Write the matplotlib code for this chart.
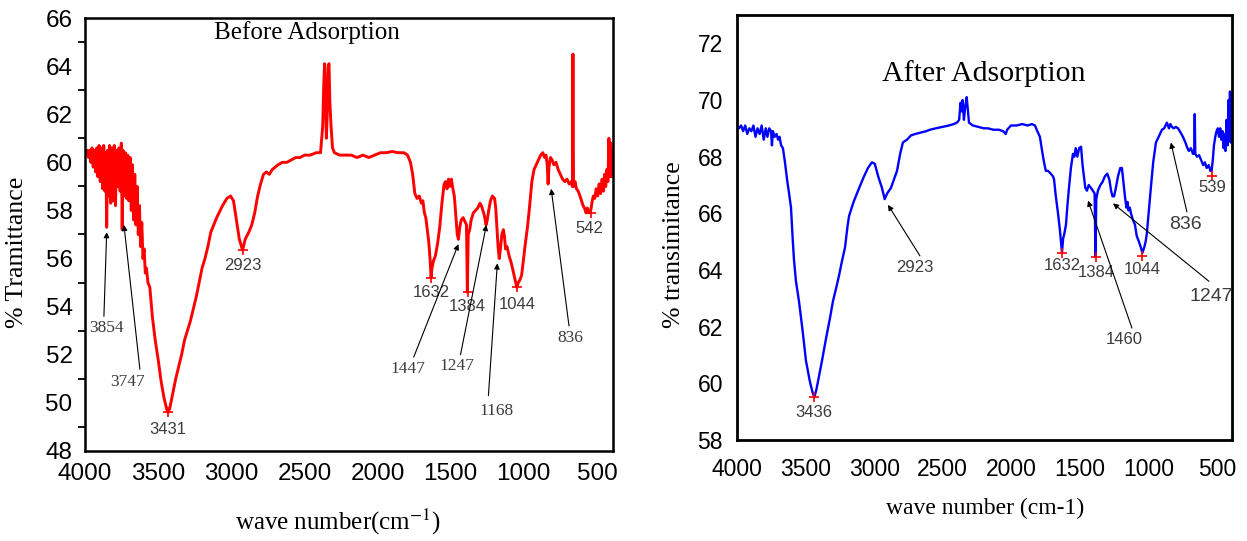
import matplotlib.pyplot as plt
from matplotlib.ticker import MultipleLocator, FixedLocator, NullLocator

plt.rcParams['mathtext.fontset'] = 'stix'

# ---- before adsorption (red) ----
before_wn = [4000, 3992, 3984, 3976, 3968, 3960, 3952, 3944, 3936, 3928,
             3920, 3912, 3904, 3896, 3888, 3880, 3872, 3864, 3858, 3852,
             3846, 3840, 3832, 3824, 3816, 3808, 3800, 3792, 3784, 3776,
             3768, 3760, 3752, 3746, 3740, 3732, 3724, 3716, 3708, 3700,
             3692, 3684, 3676, 3668, 3660, 3652, 3644, 3636, 3628, 3620,
             3612, 3604, 3596, 3588, 3580, 3570, 3557, 3540, 3520, 3500,
             3480, 3460, 3440, 3431, 3420, 3400, 3380, 3360, 3340, 3320,
             3300, 3280, 3260, 3240, 3220, 3200, 3180, 3160, 3140, 3100,
             3060, 3030, 3005, 2985, 2965, 2945, 2923, 2905, 2880, 2860,
             2840, 2820, 2800, 2780, 2760, 2740, 2720, 2700, 2680, 2650,
             2620, 2590, 2560, 2530, 2500, 2460, 2420, 2390, 2375, 2368,
             2362, 2356, 2350, 2344, 2338, 2332, 2326, 2318, 2308, 2295,
             2260, 2220, 2180, 2140, 2100, 2060, 2020, 1980, 1940, 1900,
             1860, 1820, 1795, 1775, 1760, 1745, 1730, 1715, 1700, 1690,
             1680, 1670, 1660, 1650, 1640, 1634, 1628, 1618, 1605, 1590,
             1575, 1560, 1545, 1535, 1525, 1515, 1505, 1495, 1485, 1475,
             1465, 1455, 1447, 1438, 1428, 1415, 1400, 1392, 1386, 1380,
             1370, 1360, 1345, 1330, 1315, 1300, 1290, 1280, 1270, 1258,
             1250, 1240, 1228, 1215, 1200, 1192, 1184, 1176, 1168, 1160,
             1150, 1140, 1132, 1125, 1115, 1100, 1085, 1070, 1058, 1048,
             1038, 1028, 1015, 1000, 990, 975, 960, 945, 930, 915,
             900, 885, 870, 858, 848, 840, 834, 828, 818, 806,
             795, 780, 765, 750, 735, 720, 705, 690, 675, 668,
             664, 660, 650, 640, 628, 616, 605, 595, 585, 575,
             565, 555, 542, 535, 525, 515, 505, 495, 485, 475,
             465, 455, 448, 440, 432, 425, 418, 412, 405, 400,
             395, 390]
before_T = [60.4, 60.3, 60.5, 60.2, 60.5, 60.0, 60.6, 59.8, 60.5, 59.6,
            60.6, 59.4, 60.7, 59.2, 60.6, 58.9, 60.7, 58.8, 60.4, 57.3,
            60.5, 58.6, 60.7, 58.3, 60.6, 58.4, 60.7, 58.2, 60.5, 59.0,
            60.6, 58.8, 60.8, 57.2, 60.5, 58.6, 60.4, 58.5, 60.3, 58.4,
            60.2, 58.0, 59.9, 57.6, 59.5, 57.4, 59.0, 57.0, 58.2, 56.5,
            57.5, 56.0, 56.4, 55.4, 55.6, 55.0, 54.8, 53.6, 52.6, 51.8,
            50.9, 50.2, 49.7, 49.6, 49.8, 50.4, 51.0, 51.5, 52.0, 52.6,
            53.0, 53.4, 53.9, 54.4, 55.0, 55.6, 56.0, 56.5, 57.1, 57.7,
            58.2, 58.5, 58.6, 58.4, 57.6, 56.8, 56.35, 56.8, 57.1, 57.4,
            57.9, 58.6, 59.1, 59.5, 59.6, 59.5, 59.7, 59.8, 59.9, 60.0,
            60.0, 60.1, 60.2, 60.2, 60.3, 60.3, 60.4, 60.4, 61.5, 63.2,
            64.1, 62.5, 61.0, 62.0, 64.0, 64.1, 62.5, 61.5, 60.6, 60.4,
            60.3, 60.3, 60.3, 60.2, 60.3, 60.2, 60.3, 60.4, 60.4, 60.45,
            60.4, 60.4, 60.3, 60.0, 59.5, 58.7, 58.5, 58.6, 58.3, 58.4,
            57.9, 57.7, 57.2, 56.7, 55.9, 55.2, 55.6, 55.9, 56.1, 56.6,
            57.3, 58.3, 59.1, 59.2, 58.9, 59.3, 59.0, 59.3, 58.9, 58.6,
            57.8, 57.0, 56.8, 57.3, 57.6, 57.7, 57.5, 57.4, 54.6, 57.0,
            57.2, 57.6, 57.9, 58.0, 58.1, 58.3, 58.2, 58.0, 57.8, 57.4,
            57.6, 58.0, 58.4, 58.6, 58.5, 58.1, 57.3, 56.5, 56.0, 56.4,
            57.0, 57.2, 56.9, 56.4, 56.5, 56.1, 55.8, 55.4, 55.1, 54.8,
            55.0, 55.1, 55.3, 56.1, 56.6, 57.3, 58.2, 59.2, 59.7, 59.9,
            60.1, 60.3, 60.4, 60.2, 60.3, 59.9, 59.1, 59.8, 60.2, 60.1,
            59.9, 60.0, 59.7, 59.5, 59.3, 59.2, 59.3, 59.1, 59.2, 59.0,
            64.5, 59.0, 59.2, 58.9, 58.8, 58.6, 58.4, 58.2, 58.1, 57.9,
            58.1, 57.9, 58.0, 58.3, 58.6, 58.5, 58.9, 58.6, 59.1, 58.7,
            59.3, 58.8, 59.5, 59.0, 59.7, 59.2, 61.0, 59.4, 60.8, 59.4,
            60.5, 59.6]
before_peak_wn = [3431, 2923, 1632, 1384, 1044, 542]
before_peak_T = [49.6, 56.35, 55.2, 54.6, 54.8, 57.9]

# ---- after adsorption (blue) ----
after_wn = [4000, 3985, 3970, 3955, 3940, 3925, 3910, 3895, 3880, 3865,
            3850, 3835, 3820, 3805, 3790, 3778, 3765, 3752, 3745, 3738,
            3725, 3712, 3700, 3690, 3678, 3665, 3650, 3635, 3620, 3606,
            3595, 3585, 3570, 3548, 3520, 3497, 3470, 3450, 3436, 3420,
            3400, 3380, 3350, 3322, 3300, 3275, 3256, 3235, 3212, 3195,
            3183, 3150, 3125, 3100, 3074, 3045, 3016, 2995, 2970, 2943,
            2923, 2905, 2877, 2855, 2833, 2810, 2790, 2760, 2731, 2700,
            2660, 2620, 2593, 2550, 2500, 2454, 2420, 2396, 2380, 2370,
            2362, 2355, 2345, 2335, 2325, 2316, 2308, 2280, 2240, 2200,
            2170, 2130, 2090, 2060, 2040, 2030, 2002, 1960, 1920, 1880,
            1850, 1827, 1810, 1791, 1775, 1761, 1748, 1732, 1712, 1695,
            1688, 1675, 1659, 1645, 1636, 1630, 1622, 1612, 1601, 1590,
            1579, 1565, 1550, 1540, 1530, 1518, 1505, 1491, 1480, 1470,
            1460, 1448, 1435, 1419, 1405, 1392, 1386, 1380, 1368, 1350,
            1335, 1318, 1300, 1285, 1272, 1262, 1250, 1237, 1222, 1205,
            1193, 1182, 1171, 1160, 1152, 1145, 1135, 1127, 1115, 1098,
            1085, 1069, 1055, 1044, 1030, 1020, 1011, 995, 982, 965,
            945, 925, 901, 885, 865, 850, 840, 828, 815, 800,
            784, 765, 748, 730, 715, 705, 690, 675, 666, 662,
            658, 645, 630, 617, 600, 588, 575, 560, 548, 539,
            530, 522, 512, 503, 493, 485, 476, 468, 460, 452,
            445, 438, 430, 422, 415, 410, 405, 400, 395, 391]
after_T = [69.1, 69.0, 69.1, 68.9, 69.1, 68.8, 69.0, 68.9, 69.1, 68.7,
           69.0, 68.8, 69.1, 68.6, 69.0, 68.7, 69.0, 68.9, 68.4, 68.9,
           68.7, 68.8, 68.6, 68.7, 68.4, 68.3, 67.8, 67.2, 66.7, 66.2,
           65.2, 64.4, 63.6, 62.9, 61.8, 60.8, 60.1, 59.7, 59.5, 59.8,
           60.3, 60.8, 61.6, 62.3, 62.9, 63.4, 63.8, 64.3, 64.8, 65.5,
           65.9, 66.4, 66.7, 67.0, 67.3, 67.6, 67.8, 67.75, 67.3, 66.9,
           66.5, 66.7, 66.9, 67.2, 67.5, 68.1, 68.5, 68.6, 68.75, 68.8,
           68.85, 68.9, 68.95, 69.0, 69.05, 69.1, 69.15, 69.2, 69.3, 69.9,
           69.6, 70.0, 69.3, 69.8, 70.1, 69.6, 69.2, 69.1, 69.05, 69.0,
           69.0, 68.95, 68.95, 68.9, 68.8, 68.95, 69.1, 69.1, 69.15, 69.1,
           69.15, 69.1, 68.9, 68.7, 68.2, 67.8, 67.5, 67.5, 67.4, 67.3,
           67.2, 66.6, 66.0, 65.4, 64.9, 64.6, 65.1, 65.3, 65.6, 66.3,
           66.9, 67.6, 68.1, 68.0, 68.3, 68.0, 68.3, 68.35, 67.7, 67.3,
           66.9, 66.8, 67.0, 66.9, 66.8, 66.7, 64.45, 66.5, 66.8, 67.0,
           67.1, 67.3, 67.4, 67.2, 66.8, 66.6, 66.6, 66.9, 67.3, 67.6,
           67.6, 67.1, 66.6, 66.2, 66.4, 66.1, 66.2, 66.0, 65.8, 65.6,
           65.2, 65.0, 64.8, 64.6, 64.8, 65.0, 65.3, 66.2, 66.9, 67.8,
           68.5, 68.7, 68.95, 69.0, 69.2, 69.0, 69.15, 69.05, 69.0, 69.05,
           69.0, 68.85, 68.7, 68.5, 68.3, 68.2, 68.3, 68.1, 68.1, 69.5,
           68.1, 68.0, 68.05, 67.9, 67.7, 67.8, 67.6, 67.7, 67.5, 67.5,
           67.9, 68.4, 68.7, 68.9, 69.0, 68.7, 69.0, 68.6, 68.9, 68.3,
           68.8, 68.2, 69.3, 68.4, 70.0, 68.6, 70.3, 68.5, 70.2, 68.6]
after_peak_wn = [3436, 1632, 1384, 1044, 539]
after_peak_T = [59.5, 64.6, 64.45, 64.5, 67.3]

SERIF = 'Liberation Serif'
SANS = 'Liberation Sans'
NUM_GRAY = '#3c3c3c'

fig = plt.figure(figsize=(12.47, 5.41), dpi=100)
ax1 = fig.add_axes([0.0682, 0.1664, 0.4234, 0.8003])
ax2 = fig.add_axes([0.5910, 0.1867, 0.3970, 0.7856])

arrow = dict(arrowstyle='-|>', color='black', lw=0.8, mutation_scale=8,
             shrinkA=0, shrinkB=0)

# ========== left panel ==========
ax1.plot(before_wn, before_T, color='#ff0000', lw=2.1)
ax1.plot(before_peak_wn, before_peak_T, '+', color='#ff0000', ms=7, mew=1.2)
ax1.set_xlim(4000, 390)
ax1.set_ylim(48, 66)
ax1.xaxis.set_major_locator(FixedLocator([4000, 3500, 3000, 2500, 2000, 1500, 1000, 500]))
ax1.yaxis.set_major_locator(MultipleLocator(2))
ax1.yaxis.set_minor_locator(FixedLocator(list(range(49, 66, 2))))
ax1.tick_params(axis='both', which='major', length=0, labelsize=17.5, pad=9)
ax1.tick_params(axis='y', which='minor', length=5, width=1.3, direction='out')
for lab in ax1.get_xticklabels() + ax1.get_yticklabels():
    lab.set_family(SANS)
for sp in ax1.spines.values():
    sp.set_linewidth(1.8)

ax1.text(2482, 65.38, 'Before Adsorption', family=SERIF, fontsize=18,
         ha='center', va='center')
ax1.set_ylabel('% Tramittance', family=SERIF, fontsize=18.5, va='center')
ax1.yaxis.set_label_coords(-0.129, 0.459)
ax1.set_xlabel('wave number(cm$^{-1}$)', family=SERIF, fontsize=18, va='center')
ax1.xaxis.set_label_coords(0.478, -0.163)

for txt, pos in [('3431', (3435, 48.9)), ('2923', (2924, 55.73)),
                 ('1632', (1630, 54.57)), ('1384', (1385, 53.99)),
                 ('1044', (1045, 54.1)), ('542', (555, 57.27))]:
    ax1.text(*pos, txt, family=SANS, fontsize=12, color=NUM_GRAY,
             ha='center', va='center')

for txt, pos, tail, tip in [('3854', (3850, 53.1), (3871, 53.6), (3852, 57.1)),
                            ('3747', (3707, 50.87), (3625, 51.4), (3734, 57.4)),
                            ('1447', (1794, 51.4), (1753, 51.9), (1447, 56.6)),
                            ('1247', (1460, 51.55), (1433, 52.0), (1256, 57.4)),
                            ('1168', (1188, 49.67), (1242, 50.3), (1181, 55.8)),
                            ('836', (684, 52.7), (691, 53.2), (813, 58.9))]:
    ax1.annotate('', xy=tip, xytext=tail, arrowprops=arrow)
    ax1.text(*pos, txt, family=SERIF, fontsize=12.5, color=NUM_GRAY,
             ha='center', va='center')

# ========== right panel ==========
ax2.plot(after_wn, after_T, color='#0000ff', lw=1.7)
ax2.plot(after_peak_wn, after_peak_T, '+', color='#ff0000', ms=7, mew=1.2)
ax2.set_xlim(4000, 390)
ax2.set_ylim(58, 73)
ax2.xaxis.set_major_locator(FixedLocator([4000, 3500, 3000, 2500, 2000, 1500, 1000, 500]))
ax2.yaxis.set_major_locator(FixedLocator(list(range(58, 73, 2))))
ax2.yaxis.set_minor_locator(NullLocator())
ax2.tick_params(axis='both', which='major', length=0, labelsize=16.5)
ax2.tick_params(axis='x', pad=13)
ax2.tick_params(axis='y', pad=10)
for lab in ax2.get_xticklabels() + ax2.get_yticklabels():
    lab.set_family(SANS)
for sp in ax2.spines.values():
    sp.set_linewidth(2.0)

ax2.text(2199, 70.95, 'After Adsorption', family=SERIF, fontsize=21.5,
         ha='center', va='center')
ax2.set_ylabel('% transimitance', family=SERIF, fontsize=18.5, va='center')
ax2.yaxis.set_label_coords(-0.127, 0.459)
ax2.set_xlabel('wave number (cm-1)', family=SERIF, fontsize=17, va='center')
ax2.xaxis.set_label_coords(0.501, -0.160)

for txt, pos in [('3436', (3438, 58.97)), ('1632', (1630, 64.15)),
                 ('1384', (1382, 63.9)), ('1044', (1047, 64.0)),
                 ('539', (537, 66.9))]:
    ax2.text(*pos, txt, family=SANS, fontsize=12, color=NUM_GRAY,
             ha='center', va='center')

for txt, pos, tail, tip, fs in [('2923', (2702, 64.1), (2666, 64.5), (2899, 66.3), 12),
                                ('1460', (1178, 61.54), (1120, 61.95), (1440, 66.45), 12),
                                ('1247', (544, 63.06), (558, 63.6), (1258, 66.35), 14),
                                ('836', (733, 65.6), (719, 66.05), (836, 68.5), 14)]:
    ax2.annotate('', xy=tip, xytext=tail, arrowprops=arrow)
    ax2.text(*pos, txt, family=SANS, fontsize=fs, color=NUM_GRAY,
             ha='center', va='center')

fig.savefig('out.png', dpi=100)
